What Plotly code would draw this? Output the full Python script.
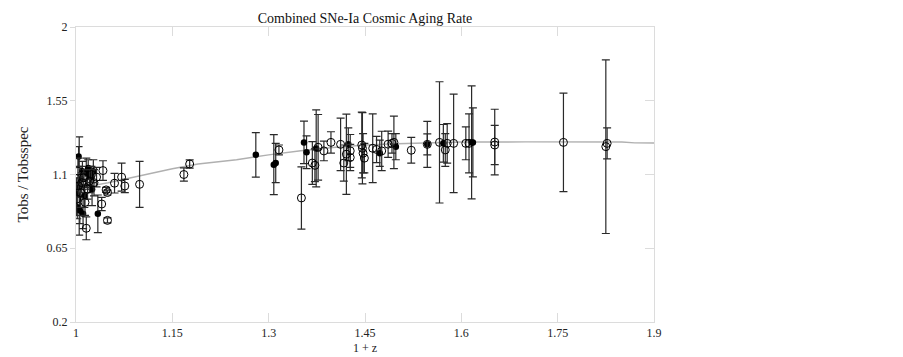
import plotly.graph_objects as go

# Model curve
model_x = [1.00, 1.03, 1.05, 1.078, 1.10, 1.15, 1.19, 1.25, 1.30, 1.35, 1.40, 1.45, 1.50, 1.55, 1.60, 1.70, 1.80, 1.85, 1.87, 1.90]
model_y = [1.02, 1.035, 1.05, 1.075, 1.09, 1.135, 1.164, 1.19, 1.22, 1.245, 1.265, 1.28, 1.288, 1.295, 1.298, 1.299, 1.299, 1.298, 1.293, 1.292]

# Filled-circle sample
filled_x = [1.001, 1.005, 1.004, 1.006, 1.002, 1.011, 1.008, 1.010, 1.013, 1.016, 1.019, 1.022, 1.025, 1.034, 1.027,
            1.280, 1.308, 1.311, 1.355, 1.359, 1.374, 1.424, 1.473, 1.498, 1.547, 1.572, 1.616, 1.618]
filled_y = [0.98, 1.03, 1.21, 0.88, 0.90, 0.86, 1.07, 1.12, 0.97, 1.11, 1.14, 1.09, 1.01, 0.86, 1.12,
            1.22, 1.16, 1.17, 1.296, 1.236, 1.259, 1.285, 1.23, 1.27, 1.284, 1.29, 1.296, 1.296]
filled_err = [0.10, 0.30, 0.06, 0.08, 0.07, 0.09, 0.08, 0.06, 0.07, 0.09, 0.05, 0.06, 0.10, 0.115, 0.07,
              0.136, 0.183, 0.12, 0.13, 0.10, 0.235, 0.10, 0.08, 0.08, 0.14, 0.115, 0.345, 0.21]

# Open-circle sample
open_x = [1.001, 1.003, 1.004, 1.007, 1.009, 1.012, 1.014, 1.016, 1.018, 1.021, 1.024, 1.028, 1.032, 1.040, 1.042,
          1.047, 1.049, 1.049, 1.060, 1.071, 1.076, 1.099, 1.168, 1.177,
          1.316, 1.351, 1.368, 1.372, 1.377, 1.386, 1.397, 1.412, 1.417, 1.421, 1.427, 1.427, 1.445, 1.446, 1.447,
          1.449, 1.462, 1.468, 1.476, 1.486, 1.492, 1.495, 1.522, 1.547, 1.566, 1.575, 1.578, 1.588, 1.607, 1.612,
          1.652, 1.652, 1.759, 1.825, 1.827]
open_y = [0.95, 1.12, 1.03, 0.99, 1.05, 1.08, 0.93, 0.772, 1.01, 1.06, 1.10, 1.05, 1.084, 0.92, 1.124,
          1.006, 0.99, 0.82, 1.047, 1.084, 1.03, 1.04, 1.10, 1.164,
          1.25, 0.957, 1.17, 1.156, 1.266, 1.244, 1.296, 1.284, 1.17, 1.224, 1.244, 1.204, 1.28, 1.26, 1.23,
          1.20, 1.26, 1.253, 1.244, 1.285, 1.29, 1.296, 1.248, 1.284, 1.296, 1.25, 1.29, 1.29, 1.29, 1.29,
          1.298, 1.28, 1.296, 1.27, 1.29]
open_err = [0.10, 0.08, 0.07, 0.09, 0.06, 0.05, 0.08, 0.07, 0.06, 0.07, 0.05, 0.08, 0.06, 0.04, 0.06,
            0.015, 0.015, 0.015, 0.06, 0.085, 0.04, 0.14, 0.04, 0.025,
            0.03, 0.19, 0.13, 0.10, 0.20, 0.06, 0.065, 0.16, 0.11, 0.245, 0.10, 0.08, 0.20, 0.217, 0.12,
            0.09, 0.21, 0.08, 0.12, 0.08, 0.06, 0.16, 0.078, 0.064, 0.37, 0.10, 0.12, 0.30, 0.10, 0.18,
            0.20, 0.12, 0.30, 0.53, 0.095]

x_ticks = [1, 1.15, 1.3, 1.45, 1.6, 1.75, 1.9]
x_tick_text = ["1", "1.15", "1.3", "1.45", "1.6", "1.75", "1.9"]
y_ticks = [0.2, 0.65, 1.1, 1.55, 2]
y_tick_text = ["0.2", "0.65", "1.1", "1.55", "2"]

FONT = "Liberation Serif, Times New Roman, serif"
ERRC = "#2a2a2a"

fig = go.Figure()
fig.add_trace(go.Scatter(x=model_x, y=model_y, mode="lines",
                         line=dict(color="#b0b0b0", width=1.4), showlegend=False, hoverinfo="skip"))
fig.add_trace(go.Scatter(x=filled_x, y=filled_y, mode="markers",
                         marker=dict(symbol="circle", size=6.5, color="black", line=dict(width=0)),
                         error_y=dict(type="data", array=filled_err, visible=True, color=ERRC,
                                      thickness=1.2, width=4),
                         showlegend=False))
fig.add_trace(go.Scatter(x=open_x, y=open_y, mode="markers",
                         marker=dict(symbol="circle-open", size=8, color="black", line=dict(width=1)),
                         error_y=dict(type="data", array=open_err, visible=True, color=ERRC,
                                      thickness=1.2, width=4),
                         showlegend=False))
# dummy trace to realize right-side inner tick axis
fig.add_trace(go.Scatter(x=[None], y=[None], yaxis="y2", showlegend=False, hoverinfo="skip"))

fig.update_layout(
    width=903, height=357,
    margin=dict(l=68, r=257, t=19, b=36),
    paper_bgcolor="white", plot_bgcolor="white",
    font=dict(family=FONT, size=12, color="#222"),
    title=dict(text="Combined SNe-Ia Cosmic Aging Rate", x=(68 + 289) / 903, xanchor="center",
               y=1 - 10 / 357, yanchor="middle", yref="container",
               font=dict(family=FONT, size=14, color="#111")),
    xaxis=dict(range=[1, 1.9], tickvals=x_ticks, ticktext=x_tick_text,
               showgrid=False, zeroline=False, showline=True, linecolor="#dcdcdc", linewidth=1,
               mirror="ticks", ticks="inside", ticklen=9, tickcolor="#dcdcdc",
               tickfont=dict(family=FONT, size=12, color="#222"),
               title=dict(text="1 + z", font=dict(family=FONT, size=12, color="#222"), standoff=4)),
    yaxis=dict(range=[0.2, 2], tickvals=y_ticks, ticktext=y_tick_text,
               showgrid=False, zeroline=False, showline=True, linecolor="#dcdcdc", linewidth=1,
               mirror=True, ticks="outside", ticklen=5, tickcolor="#dcdcdc",
               tickfont=dict(family=FONT, size=12, color="#222"),
               title=dict(text="Tobs / Tobsspec", font=dict(family=FONT, size=15, color="#222"), standoff=14)),
    yaxis2=dict(range=[0.2, 2], overlaying="y", side="right", tickvals=y_ticks,
                showticklabels=False, showgrid=False, zeroline=False, showline=False,
                ticks="inside", ticklen=9, tickcolor="#dcdcdc"),
)

fig.write_html("out.html")
